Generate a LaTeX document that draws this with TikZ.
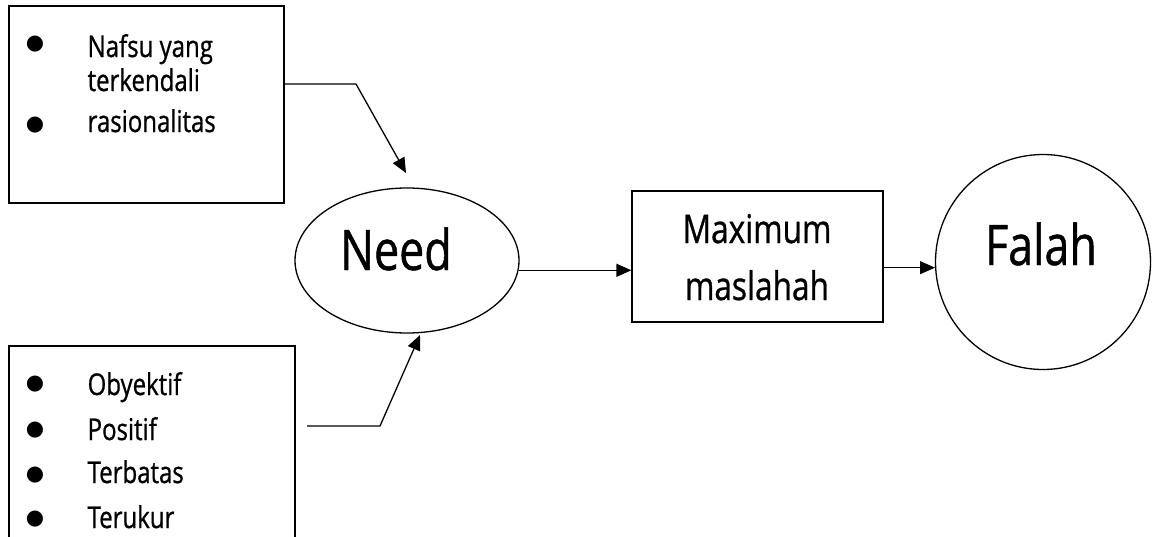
\documentclass[tikz,border=0pt]{standalone}
\usepackage{fontspec}
\setmainfont{Open Sans}[FakeStretch=0.8,FakeBold=0.8]
\newfontfamily\bulfont{DejaVu Sans}
\usetikzlibrary{arrows.meta,calc,shapes.geometric}
\begin{document}
\begin{tikzpicture}[x=1pt,y=-1pt,
  line width=1.3pt,
  box/.style={draw,rectangle,inner sep=0pt,line width=1.3pt},
  bul/.style={anchor=center,inner sep=0pt,font=\bulfont\fontsize{21}{21}\selectfont},
  item/.style={anchor=base west,inner sep=0pt,font=\fontsize{30}{30}\selectfont},
  big/.style={anchor=base,inner sep=0pt,font=\fontsize{56}{56}\selectfont},
  mid/.style={anchor=base,inner sep=0pt,font=\fontsize{39.5}{40}\selectfont},
  arr/.style={-{Triangle[length=15pt,width=13pt]},line width=1.3pt}]
\useasboundingbox (0,0) rectangle (1152,536);
\clip (0,0) rectangle (1152,536);
% boxes
\node[box,minimum width=275pt,minimum height=197pt] (b1) at (146.5,104.5) {};
\node[box,minimum width=286pt,minimum height=200pt] (b2) at (152,446) {};
\node[box,ellipse,minimum width=224pt,minimum height=145pt] (need) at (407,260.5) {};
\node[box,minimum width=251pt,minimum height=131pt] (mx) at (757.5,256.5) {};
\node[box,circle,minimum size=215pt] (falah) at (1043,262) {};
% texts top box
\node[bul] (u1) at (35,44) {●};
\node[item] (t1a) at (87,57) {Nafsu yang};
\node[item] (t1b) at (87,91) {terkendali};
\node[bul] (u2) at (35,125) {●};
\node[item] (t1c) at (87,132) {rasionalitas};
% texts bottom box
\node[bul] (v1) at (35,384) {●};
\node[item] (t2a) at (87,395) {Obyektif};
\node[bul] (v2) at (35,430) {●};
\node[item] (t2b) at (87,440) {Positif};
\node[bul] (v3) at (35,475) {●};
\node[item] (t2c) at (87,483) {Terbatas};
\node[bul] (v4) at (35,519) {●};
\node[item] (t2d) at (87,528) {Terukur};
% big labels
\node[big] (needt) at (396,270) {Need};
\node[mid] (mxa) at (757,243) {Maximum};
\node[mid] (mxb) at (757,300) {maslahah};
\node[big] (falaht) at (1041,265) {Falah};
% connectors
\coordinate (k1) at (356,84);
\coordinate (p1) at (406,173);
\draw[arr] (b1.east |- k1) -- (k1) -- (p1);
\coordinate (s2) at (307,426);
\coordinate (k2) at (380,426);
\coordinate (p2) at (420,335);
\draw[arr] (s2) -- (k2) -- (p2);
\draw[arr] (need.-5) -- (need.-5 -| mx.west);
\draw[arr] (falah.183 -| mx.east) -- (falah.183);
\end{tikzpicture}
\end{document}
